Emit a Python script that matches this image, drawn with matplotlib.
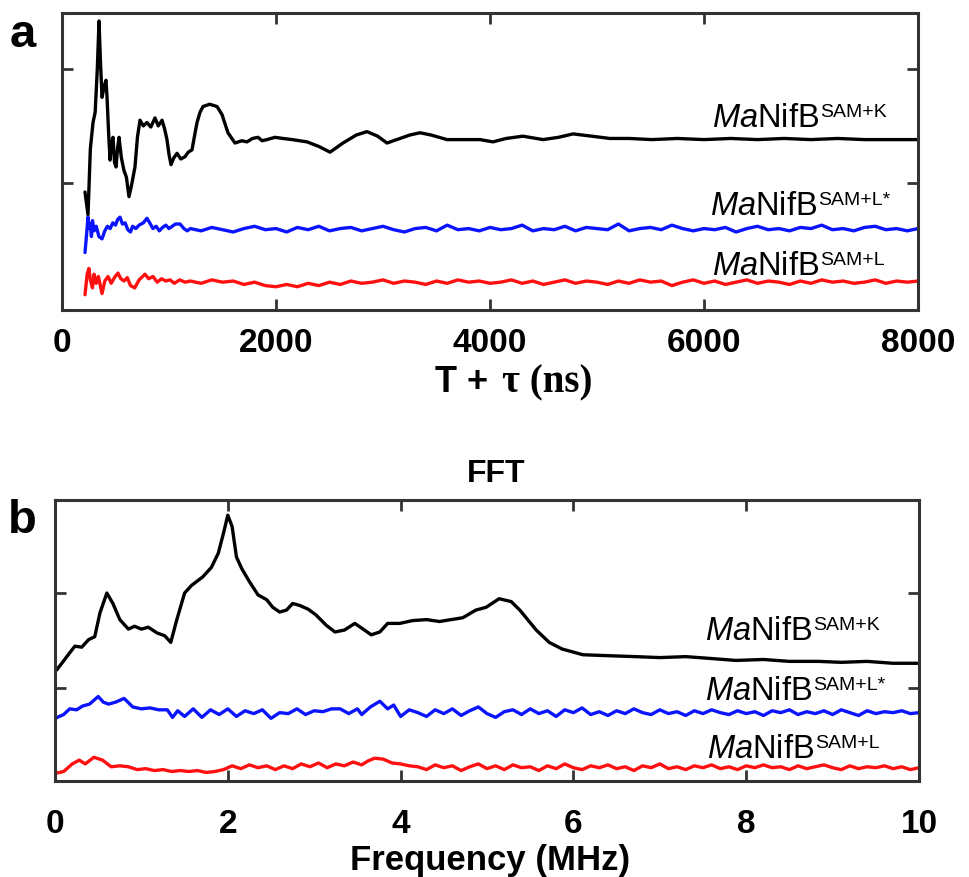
import numpy as np
import matplotlib
matplotlib.use('Agg')
import matplotlib.pyplot as plt

plt.rcParams['font.family'] = 'Liberation Sans'
plt.rcParams['mathtext.fontset'] = 'custom'
plt.rcParams['mathtext.rm'] = 'Liberation Sans'
plt.rcParams['mathtext.it'] = 'Liberation Sans:italic'

# ---- panel a : time domain (ns, arbitrary offset units) ----
a_k_t = [215, 243, 265, 290, 310, 330, 346, 360, 374, 395, 411, 421, 435, 449, 463, 477, 491, 505,
         519, 533, 555, 579, 602, 626, 650, 682, 705, 729, 760, 794, 830, 869, 900, 935, 960, 981,
         1000, 1019, 1045, 1075, 1110, 1150, 1180, 1215, 1240, 1262, 1290, 1318, 1380, 1449, 1495,
         1551, 1617, 1680, 1729, 1780, 1832, 1870, 1916, 1990, 2065, 2150, 2290, 2400, 2505, 2626,
         2750, 2850, 2950, 3037, 3159, 3250, 3346, 3450, 3598, 3750, 3907, 4028, 4150, 4308, 4495,
         4640, 4776, 4950, 5121, 5300, 5514, 5750, 6000, 6250, 6500, 6750, 7000, 7250, 7500, 7750, 8000]
a_k_v = [-0.08, -0.28, 0.30, 0.53, 0.62, 1.00, 1.42, 1.05, 0.75, 0.85, 0.90, 0.75, 0.45, 0.20, 0.35,
         0.40, 0.18, 0.14, 0.30, 0.40, 0.22, 0.11, 0.05, -0.12, -0.02, 0.14, 0.40, 0.55, 0.50, 0.53,
         0.49, 0.57, 0.50, 0.55, 0.47, 0.38, 0.25, 0.16, 0.22, 0.26, 0.21, 0.23, 0.27, 0.29, 0.42,
         0.53, 0.62, 0.67, 0.69, 0.67, 0.60, 0.44, 0.35, 0.37, 0.36, 0.39, 0.40, 0.37, 0.38, 0.40,
         0.39, 0.38, 0.36, 0.32, 0.27, 0.35, 0.42, 0.45, 0.41, 0.35, 0.39, 0.42, 0.44, 0.42, 0.38,
         0.38, 0.38, 0.36, 0.39, 0.41, 0.38, 0.40, 0.43, 0.41, 0.39, 0.39, 0.38, 0.39, 0.38, 0.39,
         0.38, 0.39, 0.38, 0.39, 0.38, 0.38, 0.38]

a_ls_t = [215, 230, 243, 255, 265, 275, 285, 300, 320, 345, 374, 400, 425, 450, 475, 500, 520, 542,
          565, 590, 615, 640, 660, 690, 720, 760, 794, 820, 850, 880, 910, 940, 970, 1000, 1030,
          1060, 1103, 1140, 1170]
a_ls_v = [-0.61, -0.45, -0.30, -0.40, -0.36, -0.47, -0.33, -0.42, -0.38, -0.47, -0.49, -0.42, -0.38,
          -0.40, -0.35, -0.37, -0.32, -0.30, -0.36, -0.35, -0.41, -0.43, -0.38, -0.40, -0.37, -0.35,
          -0.31, -0.35, -0.40, -0.38, -0.42, -0.39, -0.37, -0.40, -0.38, -0.36, -0.36, -0.40, -0.42]
a_ls_tail = [-0.40, -0.42, -0.39, -0.41, -0.43, -0.40, -0.38, -0.41, -0.40, -0.43, -0.39, -0.41, -0.38,
             -0.42, -0.40, -0.39, -0.42, -0.40, -0.38, -0.41, -0.43, -0.40, -0.39, -0.42, -0.37, -0.41,
             -0.40, -0.42, -0.39, -0.41, -0.40, -0.37, -0.42, -0.40, -0.41, -0.38, -0.42, -0.39, -0.40,
             -0.41, -0.36, -0.42, -0.40, -0.39, -0.41, -0.37, -0.40, -0.42, -0.40, -0.41, -0.39, -0.43,
             -0.40, -0.38, -0.41, -0.40, -0.42, -0.39, -0.40, -0.37, -0.41, -0.40, -0.42, -0.39, -0.38,
             -0.41, -0.40, -0.42, -0.40]

a_l_t = [215, 235, 252, 265, 285, 300, 320, 340, 374, 400, 430, 460, 490, 523, 550, 580, 610, 640,
         680, 720, 776, 810, 850, 890, 930, 970, 1010, 1050, 1100, 1150]
a_l_v = [-0.98, -0.80, -0.75, -0.85, -0.92, -0.80, -0.88, -0.82, -0.97, -0.86, -0.82, -0.88, -0.83,
         -0.79, -0.84, -0.86, -0.83, -0.90, -0.92, -0.85, -0.80, -0.84, -0.82, -0.87, -0.84, -0.86,
         -0.85, -0.88, -0.85, -0.87]
a_l_tail = [-0.86, -0.88, -0.85, -0.87, -0.86, -0.89, -0.87, -0.90, -0.91, -0.89, -0.91, -0.88, -0.90,
            -0.87, -0.89, -0.86, -0.88, -0.87, -0.85, -0.88, -0.86, -0.87, -0.89, -0.86, -0.88, -0.85,
            -0.87, -0.86, -0.88, -0.87, -0.85, -0.88, -0.86, -0.89, -0.87, -0.85, -0.88, -0.86, -0.87,
            -0.89, -0.86, -0.88, -0.85, -0.87, -0.86, -0.90, -0.87, -0.85, -0.88, -0.86, -0.89, -0.87,
            -0.85, -0.88, -0.86, -0.87, -0.89, -0.86, -0.88, -0.85, -0.87, -0.86, -0.88, -0.87, -0.85,
            -0.88, -0.86, -0.87, -0.86]

# ---- panel b : FFT (MHz) ----
b_k_f = [0.02, 0.17, 0.23, 0.31, 0.39, 0.46, 0.52, 0.60, 0.67, 0.75, 0.85, 0.92, 1.00, 1.08, 1.18,
         1.27, 1.34, 1.41, 1.50, 1.58, 1.71, 1.81, 1.89, 1.95, 2.00, 2.05, 2.10, 2.16, 2.25, 2.35,
         2.45, 2.52, 2.60, 2.68, 2.75, 2.83, 2.93, 3.02, 3.14, 3.24, 3.35, 3.47, 3.55, 3.66, 3.76,
         3.85, 3.99, 4.14, 4.30, 4.45, 4.72, 4.87, 4.99, 5.14, 5.28, 5.38, 5.57, 5.72, 5.87, 6.11,
         6.40, 6.72, 7.00, 7.30, 7.60, 7.88, 8.20, 8.50, 8.84, 9.10, 9.40, 9.70, 9.98]
b_k_v = [0.19, 0.37, 0.44, 0.43, 0.51, 0.54, 0.79, 1.00, 0.89, 0.72, 0.62, 0.65, 0.62, 0.64, 0.58,
         0.55, 0.48, 0.72, 1.00, 1.08, 1.17, 1.27, 1.42, 1.63, 1.82, 1.70, 1.38, 1.26, 1.12, 0.98,
         0.93, 0.85, 0.80, 0.82, 0.89, 0.87, 0.83, 0.77, 0.66, 0.59, 0.61, 0.68, 0.63, 0.56, 0.59,
         0.68, 0.68, 0.71, 0.72, 0.70, 0.74, 0.82, 0.85, 0.94, 0.91, 0.82, 0.61, 0.48, 0.41, 0.35,
         0.34, 0.33, 0.32, 0.33, 0.31, 0.29, 0.30, 0.28, 0.28, 0.27, 0.28, 0.26, 0.26]

b_ls_f = [0.0, 0.1, 0.17, 0.25, 0.32, 0.4, 0.5, 0.56, 0.62, 0.7, 0.8, 0.9, 1.0, 1.1, 1.2, 1.3, 1.36,
          1.42, 1.5, 1.6, 1.7, 1.8, 1.9, 2.0, 2.1, 2.2, 2.3, 2.4, 2.5, 2.6, 2.7, 2.8, 2.9, 3.0, 3.1,
          3.2, 3.3, 3.4, 3.5, 3.55, 3.65, 3.76, 3.85, 3.92, 4.0, 4.1]
b_ls_v = [-0.32, -0.28, -0.22, -0.23, -0.19, -0.17, -0.09, -0.15, -0.17, -0.15, -0.11, -0.20, -0.22,
          -0.21, -0.23, -0.23, -0.31, -0.24, -0.30, -0.22, -0.31, -0.23, -0.28, -0.22, -0.30, -0.24,
          -0.27, -0.23, -0.32, -0.26, -0.27, -0.22, -0.28, -0.24, -0.25, -0.22, -0.22, -0.27, -0.22,
          -0.28, -0.20, -0.14, -0.22, -0.18, -0.30, -0.23]
b_ls_tail = [-0.26, -0.30, -0.23, -0.27, -0.22, -0.29, -0.24, -0.20, -0.27, -0.31, -0.25, -0.23,
             -0.28, -0.22, -0.27, -0.24, -0.30, -0.23, -0.26, -0.21, -0.28, -0.25, -0.29, -0.24,
             -0.27, -0.22, -0.26, -0.28, -0.23, -0.27, -0.25, -0.29, -0.24, -0.27, -0.23, -0.26,
             -0.28, -0.24, -0.27, -0.25, -0.29, -0.24, -0.26, -0.23, -0.28, -0.25, -0.27, -0.24,
             -0.28, -0.23, -0.26, -0.29, -0.24, -0.27, -0.25, -0.26, -0.24, -0.27, -0.26]

b_l_f = [0.0, 0.1, 0.2, 0.28, 0.35, 0.45, 0.55, 0.65, 0.75, 0.85, 0.95, 1.05, 1.15, 1.25, 1.35, 1.45,
         1.55, 1.65, 1.75, 1.85, 1.95, 2.05, 2.15, 2.25, 2.35, 2.45, 2.55, 2.65, 2.75, 2.85, 2.95,
         3.05, 3.15, 3.25, 3.35, 3.45, 3.55, 3.62, 3.70, 3.80, 3.90, 4.00, 4.10]
b_l_v = [-0.90, -0.88, -0.80, -0.76, -0.80, -0.73, -0.76, -0.83, -0.82, -0.83, -0.86, -0.85, -0.87,
         -0.86, -0.88, -0.87, -0.88, -0.87, -0.89, -0.88, -0.86, -0.82, -0.85, -0.81, -0.84, -0.82,
         -0.86, -0.82, -0.85, -0.80, -0.83, -0.79, -0.84, -0.80, -0.82, -0.78, -0.81, -0.77, -0.74,
         -0.75, -0.79, -0.80, -0.82]
b_l_tail = [-0.83, -0.86, -0.81, -0.84, -0.82, -0.87, -0.83, -0.80, -0.85, -0.82, -0.86, -0.81,
            -0.84, -0.83, -0.87, -0.82, -0.85, -0.80, -0.84, -0.86, -0.82, -0.84, -0.81, -0.85,
            -0.83, -0.87, -0.82, -0.84, -0.80, -0.85, -0.83, -0.86, -0.82, -0.84, -0.81, -0.85,
            -0.83, -0.86, -0.82, -0.84, -0.81, -0.84, -0.83, -0.86, -0.82, -0.85, -0.83, -0.81,
            -0.84, -0.86, -0.82, -0.85, -0.83, -0.84, -0.82, -0.85, -0.83, -0.86, -0.84]

a_ticks = [0, 2000, 4000, 6000, 8000]
b_ticks = [0, 2, 4, 6, 8, 10]
names = ['SAM+K', 'SAM+L*', 'SAM+L']

W, H = 969, 877
fig = plt.figure(figsize=(W / 100, H / 100), dpi=100)

ax1 = fig.add_axes([62 / W, 1 - 310 / H, (918 - 62) / W, (310 - 13) / H])
ax2 = fig.add_axes([55 / W, 1 - 781 / H, (919 - 55) / W, (781 - 500) / H])

lw = 2.4
style = dict(lw=lw, solid_joinstyle='round', solid_capstyle='round')
ax1.plot(a_k_t, a_k_v, color='black', **style)
ax1.plot(a_ls_t + list(np.linspace(1200, 8000, len(a_ls_tail))), a_ls_v + a_ls_tail, color='#0a14ff', **style)
ax1.plot(a_l_t + list(np.linspace(1200, 8000, len(a_l_tail))), a_l_v + a_l_tail, color='#ff1010', **style)
ax1.set_xlim(0, 8000)
ax1.set_ylim(-1.114, 1.49)
ax1.set_xticks(a_ticks)
ax1.set_yticks([0, 1])

ax2.plot(b_k_f, b_k_v, color='black', **style)
ax2.plot(b_ls_f + list(np.linspace(4.2, 10, len(b_ls_tail))), b_ls_v + b_ls_tail, color='#0a14ff', **style)
ax2.plot(b_l_f + list(np.linspace(4.2, 10, len(b_l_tail))), b_l_v + b_l_tail, color='#ff1010', **style)
ax2.set_xlim(0, 10)
ax2.set_ylim(-0.98, 1.98)
ax2.set_xticks(b_ticks)
ax2.set_yticks([0, 1])

for ax, pad in [(ax1, 13), (ax2, 20)]:
    for s in ax.spines.values():
        s.set_linewidth(2.2)
        s.set_color('#333333')
    ax.tick_params(direction='in', length=8, width=2, color='#333333', top=True, right=True,
                   labelsize=24, pad=pad)
    ax.set_yticklabels([])
    for lbl in ax.get_xticklabels():
        lbl.set_fontweight('bold')

def ftext(x, y, s, **kw):
    return fig.text(x / W, 1 - y / H, s, ha='left', va='baseline', **kw)

fig.text(10 / W, 1 - 47 / H, 'a', fontsize=34, fontweight='bold', ha='left', va='baseline')
fig.text(8 / W, 1 - 533 / H, 'b', fontsize=34, fontweight='bold', ha='left', va='baseline')
fig.text(496 / W, 1 - 482 / H, 'FFT', fontsize=23, fontweight='bold', ha='center', va='baseline')

# x labels
renderer = fig.canvas.get_renderer()
t1 = ftext(435, 392, 'T +', fontsize=26, fontweight='bold')
bb = t1.get_window_extent(renderer)
ftext(bb.x1 + 14, 392, '\u03c4 (ns)', fontsize=28, fontweight='bold', family='Liberation Serif')
fig.text(490 / W, 1 - 870 / H, 'Frequency (MHz)', fontsize=25, fontweight='bold', ha='center', va='baseline')

# sample labels
label_pos = [(712, 127), (710, 215), (712, 275), (705, 640), (705, 700), (707, 758)]
for i, (x, y) in enumerate(label_pos):
    t = ftext(x, y, r'$\mathit{Ma}$NifB', fontsize=23.5)
    bb = t.get_window_extent(renderer)
    ftext(bb.x1 + 1, y - 10, names[i % 3], fontsize=14)

fig.savefig('out.png', dpi=100)
